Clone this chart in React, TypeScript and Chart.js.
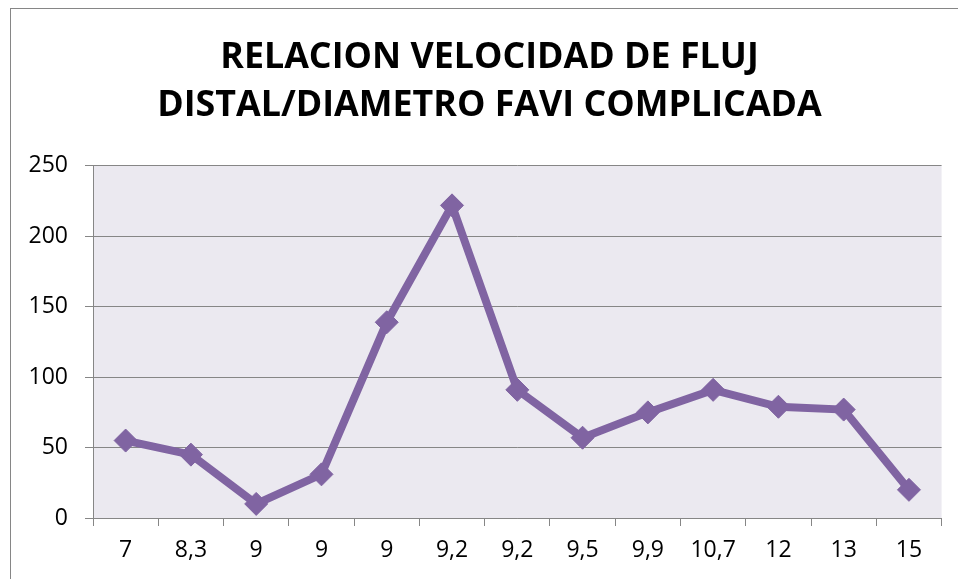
import React, { useEffect, useRef } from "react";
import { Chart, registerables } from "chart.js";

Chart.register(...registerables);

const categories = ["7", "8,3", "9", "9", "9", "9,2", "9,2", "9,5", "9,9", "10,7", "12", "13", "15"];
const values = [55, 45, 10, 31, 139, 222, 91, 57, 75, 91, 79, 77, 20];
const titleLines = ["RELACION VELOCIDAD DE FLUJ", "DISTAL/DIAMETRO FAVI COMPLICADA"];
const yMin = 0;
const yMax = 250;
const yStep = 50;

const plotBg = {
  id: "plotBg",
  beforeDraw(chart: any) {
    const { ctx, chartArea } = chart;
    if (!chartArea) return;
    ctx.save();
    ctx.fillStyle = "#EBE9F0";
    ctx.fillRect(chartArea.left, chartArea.top, chartArea.right - chartArea.left, chartArea.bottom - chartArea.top);
    ctx.restore();
  },
};

export default function App() {
  const ref = useRef<HTMLCanvasElement | null>(null);
  useEffect(() => {
    if (!ref.current) return;
    const font = "'Open Sans', 'DejaVu Sans', sans-serif";
    const chart = new Chart(ref.current, {
      type: "line",
      data: {
        labels: categories,
        datasets: [
          {
            data: values,
            borderColor: "#8064A2",
            backgroundColor: "#8064A2",
            borderWidth: 8,
            pointStyle: "rectRot",
            pointRadius: 11.5,
            pointBorderWidth: 1,
            pointBorderColor: "#8064A2",
            pointBackgroundColor: "#8064A2",
            tension: 0,
            fill: false,
            yAxisID: "y",
          },
        ],
      },
      options: {
        responsive: false,
        animation: false,
        layout: { padding: { top: 0, right: 0, bottom: 0, left: 0 } },
        plugins: {
          legend: { display: false },
          tooltip: { enabled: false },
          title: {
            display: true,
            text: titleLines,
            color: "#000000",
            font: { family: font, size: 35.8, weight: "bold", lineHeight: 1.34 },
            padding: { top: 25, bottom: 36 },
          },
        },
        scales: {
          x: {
            offset: true,
            grid: {
              display: true,
              drawOnChartArea: false,
              drawTicks: true,
              tickLength: 8,
              color: "#868686",
              offset: true,
            },
            border: { display: true, color: "#868686", width: 1 },
            ticks: {
              color: "#000000",
              font: { family: font, size: 23 },
              padding: 11,
              maxRotation: 0,
              autoSkip: false,
            },
            afterFit(scale: any) {
              scale.height = 61;
            },
          },
          y: {
            min: yMin,
            max: yMax,
            grid: {
              color: "#868686",
              lineWidth: 1,
              drawTicks: true,
              tickLength: 8,
            },
            border: { display: true, color: "#868686", width: 1 },
            ticks: {
              stepSize: yStep,
              color: "#000000",
              font: { family: font, size: 23 },
              padding: 17,
            },
            afterFit(scale: any) {
              scale.width = 82;
            },
          },
          yRightSpace: {
            type: "linear",
            position: "right",
            display: true,
            min: yMin,
            max: yMax,
            grid: { display: false, drawTicks: false },
            border: { display: false },
            ticks: { display: false },
            afterFit(scale: any) {
              scale.width = 26.4;
            },
          },
        },
      },
      plugins: [plotBg],
    });
    return () => chart.destroy();
  }, []);

  return (
    <div
      style={{
        position: "absolute",
        left: 10,
        top: 8,
        width: 948,
        height: 571,
        boxSizing: "border-box",
        borderLeft: "1px solid #868686",
        borderTop: "1px solid #868686",
        background: "#ffffff",
        overflow: "hidden",
      }}
    >
      <canvas ref={ref} width={957} height={570} style={{ display: "block" }} />
    </div>
  );
}
